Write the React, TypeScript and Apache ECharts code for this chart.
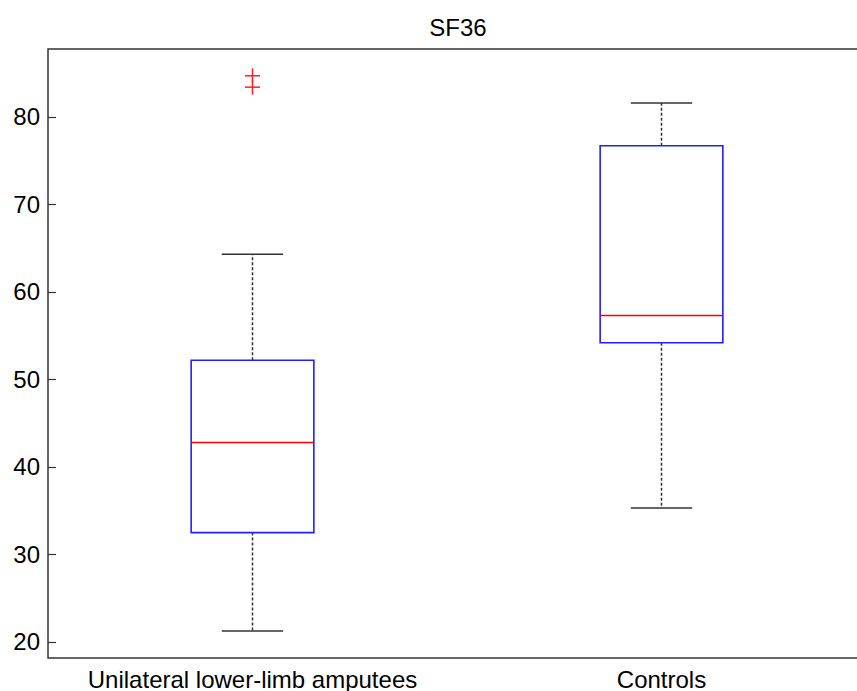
import React, { useEffect, useRef } from "react";
import * as echarts from "echarts";

const categories = ["Unilateral lower-limb amputees", "Controls"];
const whiskerLow = [21.25, 35.3];
const quartile1 = [32.5, 54.2];
const medians = [42.8, 57.3];
const quartile3 = [52.2, 76.7];
const whiskerHigh = [64.3, 81.6];
const outlierGroup = [0, 0];
const outlierValues = [84.7, 83.4];
const yTicks = [20, 30, 40, 50, 60, 70, 80];

const FONT = "'Liberation Sans', Arial, Helvetica, sans-serif";

export default function App() {
  const ref = useRef<HTMLDivElement>(null);
  useEffect(() => {
    document.body.style.margin = "0";
    const chart = echarts.init(ref.current!, null, { renderer: "svg" });
    const boxData = categories.map((_, i) => [
      i,
      whiskerLow[i],
      quartile1[i],
      medians[i],
      quartile3[i],
      whiskerHigh[i],
    ]);
    const outData = outlierGroup.map((g, i) => [g, outlierValues[i]]);
    chart.setOption({
      animation: false,
      title: {
        text: "SF36",
        left: 453,
        top: 10,
        textAlign: "center",
        textStyle: { fontFamily: FONT, fontSize: 24, fontWeight: "normal", color: "#000" },
      },
      grid: {
        left: 48,
        top: 49,
        bottom: 32,
        right: 14,
        show: true,
        borderColor: "#333",
        borderWidth: 1.5,
        backgroundColor: "#fff",
      },
      xAxis: {
        type: "category",
        data: categories,
        axisLine: { show: false },
        axisTick: { show: false },
        axisLabel: { fontFamily: FONT, fontSize: 24, color: "#000", margin: 9, interval: 0 },
        splitLine: { show: false },
      },
      yAxis: {
        type: "value",
        min: 18.17,
        max: 87.76,
        axisLine: { show: false },
        axisTick: {
          show: true,
          inside: true,
          length: 8,
          customValues: yTicks,
          lineStyle: { color: "#333", width: 1.2 },
        },
        axisLabel: {
          fontFamily: FONT,
          fontSize: 24,
          color: "#000",
          margin: 8,
          customValues: yTicks,
        },
        splitLine: { show: false },
      },
      series: [
        {
          type: "custom",
          data: boxData,
          renderItem: (params: any, api: any) => {
            const x = api.value(0);
            const lo = api.coord([x, api.value(1)]);
            const q1 = api.coord([x, api.value(2)]);
            const md = api.coord([x, api.value(3)]);
            const q3 = api.coord([x, api.value(4)]);
            const hi = api.coord([x, api.value(5)]);
            const band = api.size([1, 0])[0];
            const bw = band * 0.3;
            const cw = band * 0.15;
            const cx = lo[0];
            const whisk = { stroke: "#333", lineWidth: 1.5, lineDash: [3, 2] };
            const cap = { stroke: "#333", lineWidth: 1.5 };
            return {
              type: "group",
              children: [
                { type: "line", shape: { x1: cx, y1: q3[1], x2: cx, y2: hi[1] }, style: whisk },
                { type: "line", shape: { x1: cx, y1: q1[1], x2: cx, y2: lo[1] }, style: whisk },
                { type: "line", shape: { x1: cx - cw / 2, y1: hi[1], x2: cx + cw / 2, y2: hi[1] }, style: cap },
                { type: "line", shape: { x1: cx - cw / 2, y1: lo[1], x2: cx + cw / 2, y2: lo[1] }, style: cap },
                {
                  type: "rect",
                  shape: { x: cx - bw / 2, y: q3[1], width: bw, height: q1[1] - q3[1] },
                  style: { fill: "none", stroke: "#2020ff", lineWidth: 1.6 },
                },
                {
                  type: "line",
                  shape: { x1: cx - bw / 2, y1: md[1], x2: cx + bw / 2, y2: md[1] },
                  style: { stroke: "#ff0000", lineWidth: 1.5 },
                },
              ],
            };
          },
        },
        {
          type: "custom",
          data: outData,
          renderItem: (params: any, api: any) => {
            const p = api.coord([api.value(0), api.value(1)]);
            const h = 7.5;
            const st = { stroke: "#ff2020", lineWidth: 1.5 };
            return {
              type: "group",
              children: [
                { type: "line", shape: { x1: p[0] - h, y1: p[1], x2: p[0] + h, y2: p[1] }, style: st },
                { type: "line", shape: { x1: p[0], y1: p[1] - h, x2: p[0], y2: p[1] + h }, style: st },
              ],
            };
          },
        },
      ],
    });
    return () => chart.dispose();
  }, []);
  return (
    <div style={{ position: "fixed", left: 0, top: 0, width: 857, height: 691, overflow: "hidden", background: "#fff" }}>
      <div ref={ref} style={{ width: 880, height: 691 }} />
    </div>
  );
}
